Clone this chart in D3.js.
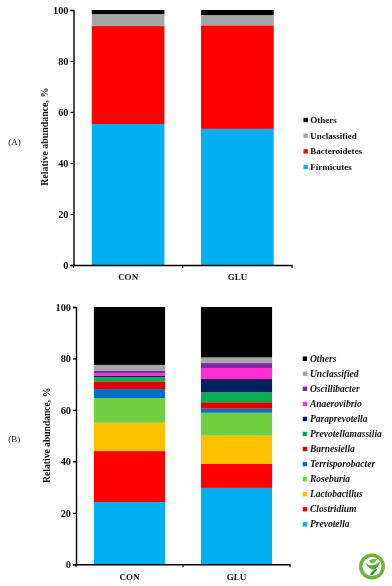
<!DOCTYPE html>
<html>
<head>
<meta charset="utf-8">
<script src="https://cdn.jsdelivr.net/npm/d3@7"></script>
<style>
    html, body { margin: 0; padding: 0; background: #fff; }
    svg { display: block; }
    text { font-family: "Liberation Serif", serif; font-weight: bold; fill: #111; }
</style>
</head>
<body>
<div id="chart"></div>
<script>
const groups = ["CON", "GLU"];
const yTicks = [0, 20, 40, 60, 80, 100];

// Panel A, phylum level, bottom to top
const phylaNames = ["Firmicutes", "Bacteroidetes", "Unclassified", "Others"];
const phylaColors = ["#00b0f0", "#ff0000", "#a6a6a6", "#000000"];
const phylaCon = [55.3, 38.4, 4.7, 1.6];
const phylaGlu = [53.4, 40.6, 4.0, 2.0];

// Panel B, genus level, bottom to top
const generaNames = ["Prevotella", "Clostridium", "Lactobacillus", "Roseburia", "Terrisporobacter", "Barnesiella",
    "Prevotellamassilia", "Paraprevotella", "Anaerovibrio", "Oscillibacter", "Unclassified", "Others"];
const generaColors = ["#00b0f0", "#ff0000", "#ffc000", "#70d040", "#0070c0", "#e00000",
    "#00b050", "#002060", "#ff2fd0", "#8a20a8", "#a6a6a6", "#000000"];
const generaCon = [24.2, 19.8, 11.0, 9.6, 3.5, 3.0, 1.6, 0.7, 0.9, 1.0, 2.2, 22.5];
const generaGlu = [29.7, 9.3, 11.0, 8.9, 1.6, 2.5, 3.8, 5.2, 4.3, 1.9, 2.2, 19.6];

let svg = d3.select("#chart").append("svg")
    .attr("width", 392)
    .attr("height", 586);

svg.append("defs").append("filter")
    .attr("id", "soft")
    .attr("x", "0").attr("y", "0").attr("width", "100%").attr("height", "100%")
    .append("feGaussianBlur")
    .attr("stdDeviation", 0.35);

let page = svg.append("g").attr("filter", "url(#soft)");

/**
 * Draws one stacked bar panel with its axes and legend.
 */
function drawPanel(opts)
{
    let g = page.append("g");

    let rows = groups.map((name, i) => {
        let row = { group: name };
        opts.names.forEach((n, j) => { row[n] = opts.values[i][j]; });
        return row;
    });

    let x = d3.scaleBand().domain(groups).range([opts.left, opts.right]).paddingInner(opts.pad).paddingOuter(opts.pad / 2);
    let y = d3.scaleLinear().domain([0, 100]).range([opts.bottom, opts.top]);
    let color = d3.scaleOrdinal().domain(opts.names).range(opts.colors);

    let stack = d3.stack().keys(opts.names)(rows);

    g.selectAll("g.layer")
        .data(stack)
        .enter().append("g")
        .classed("layer", true)
        .attr("fill", d => color(d.key))
        .selectAll("rect")
        .data(d => d)
        .enter().append("rect")
        .attr("x", d => x(d.data.group))
        .attr("width", x.bandwidth())
        .attr("y", d => y(d[1]))
        .attr("height", d => y(d[0]) - y(d[1]));

    // y axis
    let yAxis = g.append("g")
        .attr("transform", "translate(" + opts.left + ",0)")
        .call(d3.axisLeft(y).tickValues(yTicks).tickSize(3).tickPadding(2));
    yAxis.selectAll("text").style("font-size", "10.3px").style("font-family", null);
    yAxis.selectAll("line").attr("stroke", "#000").attr("stroke-width", 1.3);
    yAxis.select(".domain").attr("stroke", "#000").attr("stroke-width", 1.4);

    // x axis, ticks sit on the group boundaries so draw them from the band scale
    let xAxis = g.append("g")
        .attr("transform", "translate(0," + opts.bottom + ")")
        .call(d3.axisBottom(x).tickSize(0).tickPadding(9));
    xAxis.selectAll("text").style("font-size", "9px").style("font-family", null);
    xAxis.select(".domain").attr("stroke", "#000").attr("stroke-width", 1.4);
    xAxis.selectAll("line.edge")
        .data([x.range()[0], x(groups[1]) - x.step() * opts.pad / 2, x.range()[1]])
        .enter().append("line")
        .classed("edge", true)
        .attr("x1", d => d).attr("x2", d => d)
        .attr("y1", 0).attr("y2", 3)
        .attr("stroke", "#000")
        .attr("stroke-width", 1.2);

    // axis title
    g.append("text")
        .attr("transform", "translate(" + opts.titleX + "," + opts.titleY + ") rotate(-90)")
        .attr("text-anchor", "middle")
        .style("font-size", opts.titleSize + "px")
        .text("Relative abundance, %");

    // panel letter
    g.append("text")
        .attr("x", opts.letterX)
        .attr("y", opts.letterY)
        .style("font-size", "9px")
        .style("font-weight", "normal")
        .text(opts.letter);

    // legend, top entry is the last series
    let legendY = d3.scalePoint()
        .domain(opts.names.slice().reverse())
        .range([opts.legendTop, opts.legendBottom]);

    let legend = g.selectAll("g.legend")
        .data(opts.names)
        .enter().append("g")
        .classed("legend", true)
        .attr("transform", d => "translate(" + opts.legendX + "," + legendY(d) + ")");

    legend.append("rect")
        .attr("x", 0).attr("y", -2.2)
        .attr("width", 4.4).attr("height", 4.4)
        .attr("fill", d => color(d));

    legend.append("text")
        .attr("x", opts.legendGap)
        .attr("y", 3)
        .style("font-size", opts.legendSize + "px")
        .style("font-style", opts.italic ? "italic" : "normal")
        .text(d => d);
}

drawPanel({
    names: phylaNames, colors: phylaColors, values: [phylaCon, phylaGlu],
    left: 73.5, right: 292, top: 10, bottom: 265, pad: 0.335, titleSize: 9.9,
    titleX: 48, titleY: 136.7, letter: "(A)", letterX: 8.3, letterY: 145,
    legendX: 303.5, legendTop: 120, legendBottom: 167, legendGap: 6.8, legendSize: 9, italic: false
});

drawPanel({
    names: generaNames, colors: generaColors, values: [generaCon, generaGlu],
    left: 76, right: 290, top: 307, bottom: 564.3, pad: 0.335, titleSize: 9.6,
    titleX: 49.5, titleY: 435.3, letter: "(B)", letterX: 8.3, letterY: 442,
    legendX: 302.7, legendTop: 358.7, legendBottom: 524.3, legendGap: 7.3, legendSize: 9.5, italic: true
});

// journal badge, bottom right corner
let badge = page.append("g").attr("transform", "translate(372,566.5)");
badge.append("circle").attr("r", 13).attr("fill", "#6fb23a");
badge.append("circle").attr("r", 9.5).attr("fill", "#fff");
badge.append("path").attr("d", "M-7,-4 Q-2,4 2,3 Q7,1 8,-5 Q3,-1 0,-1 Q-4,-1 -7,-4Z").attr("fill", "#58a62e");
badge.append("path").attr("d", "M-3,-6 Q1,-9 5,-7 Q3,-3 -1,-3Z").attr("fill", "#7cbc44");
badge.append("path").attr("d", "M-2,8 Q0,4 4,2 L5,3 Q3,6 0,9Z").attr("fill", "#2f8a2a");
</script>
</body>
</html>
